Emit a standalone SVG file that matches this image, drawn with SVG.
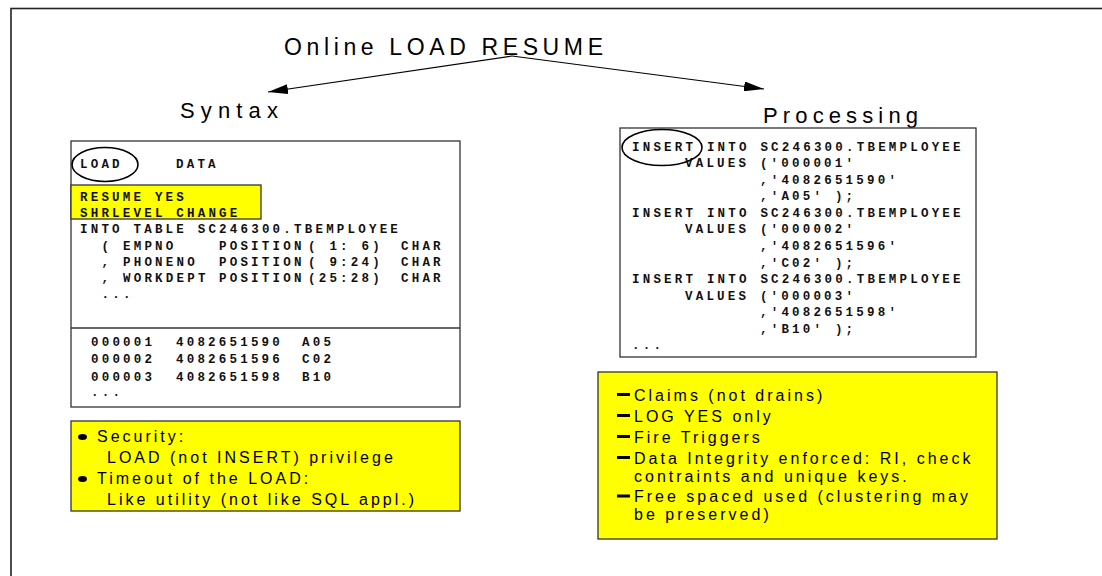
<svg xmlns="http://www.w3.org/2000/svg" width="1102" height="576" viewBox="0 0 1102 576">
<style>
.frame{fill:#fff;stroke:#333;stroke-width:1.3}
.hl{fill:#ffff00;stroke:#333;stroke-width:1.3}
.code{font-family:"Liberation Mono",monospace;font-weight:bold;font-size:12.5px;letter-spacing:3.2px;fill:#111}
.note{font-family:"Liberation Sans",Arial,sans-serif;font-size:16px;letter-spacing:3px;fill:#000}
.head{font-family:"Liberation Sans",Arial,sans-serif;font-size:22px;fill:#000}
.oval{fill:none;stroke:#000;stroke-width:1.6}
.conn{stroke:#000;stroke-width:1.2;fill:none}
</style>
<defs>
<marker id="ah" markerUnits="userSpaceOnUse" markerWidth="20" markerHeight="10" refX="20" refY="5" orient="auto">
<path d="M0,0 L20,5 L0,10 z" fill="#000"/>
</marker>
</defs>
<rect x="0" y="0" width="1102" height="576" fill="#fff"/>
<rect x="11" y="8.5" width="1200" height="700" fill="none" stroke="#222" stroke-width="1.6"/>

<g id="title">
<text class="head" x="284" y="55" style="font-size:23px" textLength="319" lengthAdjust="spacing">Online LOAD RESUME</text>
</g>
<g id="syntax-label">
<text class="head" x="180" y="118" textLength="98" lengthAdjust="spacing">Syntax</text>
</g>
<g id="processing-label">
<text class="head" x="763" y="123" textLength="155" lengthAdjust="spacing">Processing</text>
</g>

<g id="connectors">
<line class="conn" x1="512" y1="56" x2="268" y2="92" marker-end="url(#ah)"/>
<line class="conn" x1="512" y1="56" x2="764" y2="89" marker-end="url(#ah)"/>
</g>

<g id="syntax-box" xml:space="preserve">
<rect class="frame" x="71" y="141" width="389" height="266"/>
<line x1="71" y1="328" x2="460" y2="328" stroke="#333" stroke-width="1.3"/>
<rect class="hl" x="71" y="185" width="190" height="34"/>
<text class="code" x="80" y="168">LOAD</text>
<text class="code" x="176" y="168">DATA</text>
<ellipse class="oval" cx="105" cy="164.5" rx="33" ry="17"/>
<text class="code" x="80" y="201">RESUME YES</text>
<text class="code" x="80" y="217">SHRLEVEL CHANGE</text>
<text class="code" x="80" y="233">INTO TABLE SC246300.TBEMPLOYEE</text>
<text class="code" x="101.5" y="250">(</text>
<text class="code" x="123" y="250">EMPNO</text>
<text class="code" x="219" y="250">POSITION</text>
<text class="code" x="308" y="250">( 1: 6)</text>
<text class="code" x="401" y="250">CHAR</text>
<text class="code" x="101.5" y="266">,</text>
<text class="code" x="123" y="266">PHONENO</text>
<text class="code" x="219" y="266">POSITION</text>
<text class="code" x="308" y="266">( 9:24)</text>
<text class="code" x="401" y="266">CHAR</text>
<text class="code" x="101.5" y="282">,</text>
<text class="code" x="123" y="282">WORKDEPT</text>
<text class="code" x="219" y="282">POSITION</text>
<text class="code" x="308" y="282">(25:28)</text>
<text class="code" x="401" y="282">CHAR</text>
<text class="code" x="101.5" y="298">...</text>
<text class="code" x="91" y="345.5">000001</text>
<text class="code" x="176" y="345.5">4082651590</text>
<text class="code" x="302" y="345.5">A05</text>
<text class="code" x="91" y="363">000002</text>
<text class="code" x="176" y="363">4082651596</text>
<text class="code" x="302" y="363">C02</text>
<text class="code" x="91" y="380.5">000003</text>
<text class="code" x="176" y="380.5">4082651598</text>
<text class="code" x="302" y="380.5">B10</text>
<text class="code" x="91" y="396">...</text>
</g>

<g id="processing-box" xml:space="preserve">
<rect class="frame" x="620" y="128" width="356" height="229"/>
<text class="code" x="632" y="150.5">INSERT INTO SC246300.TBEMPLOYEE</text>
<text class="code" x="685" y="167">VALUES ('000001'</text>
<text class="code" x="760" y="183.5">,'4082651590'</text>
<text class="code" x="760" y="200">,'A05' );</text>
<text class="code" x="632" y="216.8">INSERT INTO SC246300.TBEMPLOYEE</text>
<text class="code" x="685" y="233.4">VALUES ('000002'</text>
<text class="code" x="760" y="250">,'4082651596'</text>
<text class="code" x="760" y="266.6">,'C02' );</text>
<text class="code" x="632" y="283.2">INSERT INTO SC246300.TBEMPLOYEE</text>
<text class="code" x="685" y="299.8">VALUES ('000003'</text>
<text class="code" x="760" y="316.4">,'4082651598'</text>
<text class="code" x="760" y="333">,'B10' );</text>
<text class="code" x="632" y="349">...</text>
<ellipse class="oval" cx="662" cy="147.5" rx="40" ry="18"/>
</g>

<g id="syntax-notes">
<rect class="hl" x="71" y="421" width="389" height="90"/>
<ellipse cx="82.5" cy="437" rx="4.5" ry="3" fill="#000"/>
<ellipse cx="82.5" cy="479" rx="4.5" ry="3" fill="#000"/>
<text class="note" x="97" y="442">Security:</text>
<text class="note" x="107" y="463">LOAD (not INSERT) privilege</text>
<text class="note" x="97" y="484">Timeout of the LOAD:</text>
<text class="note" x="107" y="505">Like utility (not like SQL appl.)</text>
</g>

<g id="processing-notes">
<rect class="hl" x="598" y="372" width="399" height="167"/>
<rect x="617" y="393" width="13" height="3" fill="#000"/>
<rect x="617" y="414" width="13" height="3" fill="#000"/>
<rect x="617" y="435" width="13" height="3" fill="#000"/>
<rect x="617" y="456" width="13" height="3" fill="#000"/>
<rect x="617" y="494.5" width="13" height="3" fill="#000"/>
<text class="note" x="634" y="400.5">Claims (not drains)</text>
<text class="note" x="634" y="422">LOG YES only</text>
<text class="note" x="634" y="443">Fire Triggers</text>
<text class="note" x="634" y="463.5">Data Integrity enforced: RI, check</text>
<text class="note" x="634" y="481.5">contraints and unique keys.</text>
<text class="note" x="634" y="502">Free spaced used (clustering may</text>
<text class="note" x="634" y="520">be preserved)</text>
</g>
</svg>
